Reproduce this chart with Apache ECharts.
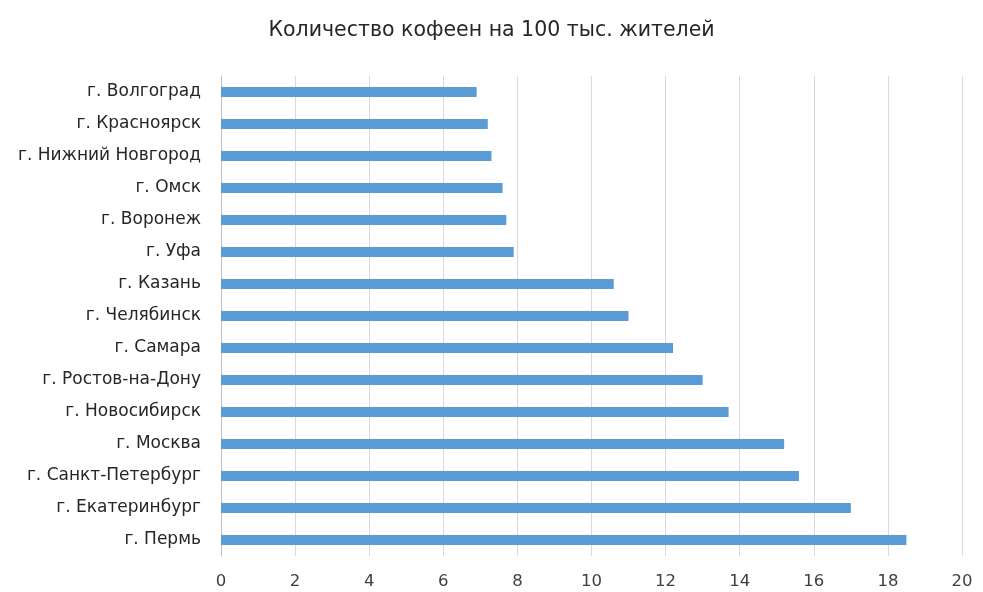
<!DOCTYPE html>
<html>
<head>
<meta charset="utf-8">
<script src="https://cdn.jsdelivr.net/npm/echarts@6/dist/echarts.min.js"></script>
<style>html,body{margin:0;padding:0;background:#fff}#c{width:983px;height:592px}</style>
</head>
<body>
<div id="c"></div>
<script>
const cities = ['г. Волгоград','г. Красноярск','г. Нижний Новгород','г. Омск','г. Воронеж','г. Уфа','г. Казань','г. Челябинск','г. Самара','г. Ростов-на-Дону','г. Новосибирск','г. Москва','г. Санкт-Петербург','г. Екатеринбург','г. Пермь'];
const values = [6.9, 7.2, 7.3, 7.6, 7.7, 7.9, 10.6, 11.0, 12.2, 13.0, 13.7, 15.2, 15.6, 17.0, 18.5];
const titleText = 'Количество кофеен на 100 тыс. жителей';

const chart = echarts.init(document.getElementById('c'), null, {renderer: 'canvas'});
const font = '"DejaVu Sans", sans-serif';
chart.setOption({
  animation: false,
  backgroundColor: '#fff',
  title: {
    text: titleText, left: 'center', top: 15,
    textStyle: {fontFamily: font, fontSize: 20.5, fontWeight: 'normal', color: '#262626'}
  },
  grid: {left: 221, right: 21, top: 76, bottom: 36, containLabel: false},
  xAxis: {
    type: 'value', min: 0, max: 20, interval: 2,
    axisLine: {show: false}, axisTick: {show: false},
    splitLine: {lineStyle: {color: '#d9d9d9', width: 1}},
    axisLabel: {fontFamily: font, fontSize: 16.5, color: '#404040', margin: 17}
  },
  yAxis: {
    type: 'category', data: cities, inverse: true,
    axisLine: {lineStyle: {color: '#bfbfbf'}}, axisTick: {show: false},
    axisLabel: {fontFamily: font, fontSize: 17, color: '#262626', margin: 20}
  },
  series: [{
    type: 'bar', data: values, barWidth: 10,
    itemStyle: {color: '#5B9BD5'}
  }]
});
</script>
</body>
</html>
